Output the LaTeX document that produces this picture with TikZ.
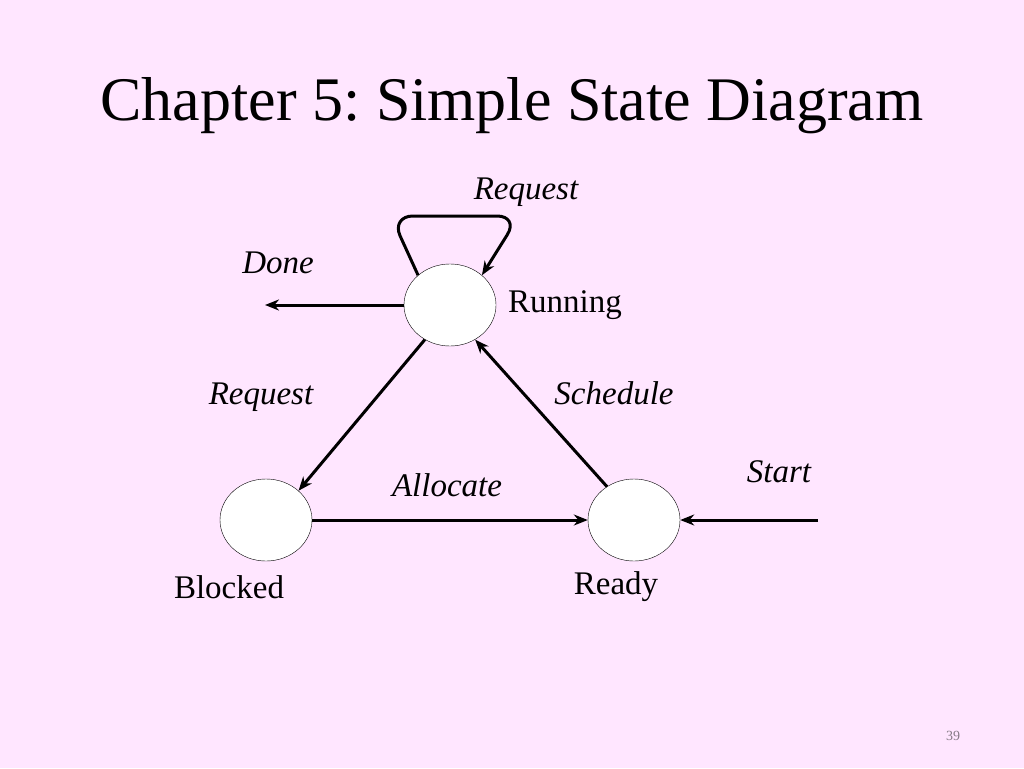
\documentclass[tikz,border=0pt]{standalone}
\usepackage{fontspec}
\setmainfont{Liberation Serif}
\usepackage{tikz}
\usetikzlibrary{arrows.meta,shapes.geometric}
\definecolor{slidepink}{HTML}{FFE6FF}
\definecolor{pagegray}{HTML}{857A85}
\frenchspacing

\tikzset{
  state/.style={ellipse, draw=black, thin, fill=white, inner sep=0pt,
    minimum width=92pt, minimum height=82pt},
  trans/.style={-{Stealth[length=14pt,width=11pt]}, line width=3pt},
  lbl/.style={font=\fontsize{33}{36}\selectfont\itshape, anchor=base},
  statename/.style={font=\fontsize{33}{36}\selectfont, anchor=base}
}

\begin{document}
\begin{tikzpicture}[x=1pt, y=-1pt]
  % ── Slide background ──
  \fill[slidepink] (0,0) rectangle (1024,768);
  \useasboundingbox (0,0) rectangle (1024,768);
  \node[font=\fontsize{62}{66}\selectfont, anchor=base] (title) at (512,120)
    {Chapter 5: Simple State Diagram};

  % States
  \node[state] (running) at (450,305) {};
  \node[state] (blocked) at (266,520) {};
  \node[state] (ready)   at (634,520) {};
  \node[statename] (runningName) at (565,312) {Running};
  \node[statename] (blockedName) at (229,598) {Blocked};
  \node[statename] (readyName)   at (616,594) {Ready};

  % Free ends
  \coordinate (doneEnd) at (265,305);
  \coordinate (startBeg) at (818,520);

  % Transitions
  \draw[trans, rounded corners=22pt] (running.137) -- (391,216)
    -- (519,216) -- (running.43);
  \draw[trans] (running.west) -- (doneEnd);
  \draw[trans] (running.234) -- (blocked.42);
  \draw[trans] (ready.129) -- (running.306);
  \draw[trans] (blocked.east) -- (ready.west);
  \draw[trans] (startBeg) -- (ready.east);

  % Transition labels
  \node[lbl] (reqLoop)  at (526,199) {Request};
  \node[lbl] (doneLbl)  at (278,273) {Done};
  \node[lbl] (reqLbl)   at (261,404) {Request};
  \node[lbl] (schedLbl) at (614,404) {Schedule};
  \node[lbl] (allocLbl) at (447,496) {Allocate};
  \node[lbl] (startLbl) at (779,482) {Start};

  % Page number
  \node[font=\fontsize{14}{16}\selectfont, pagegray] (pageNo) at (953,736) {39};
\end{tikzpicture}
\end{document}
